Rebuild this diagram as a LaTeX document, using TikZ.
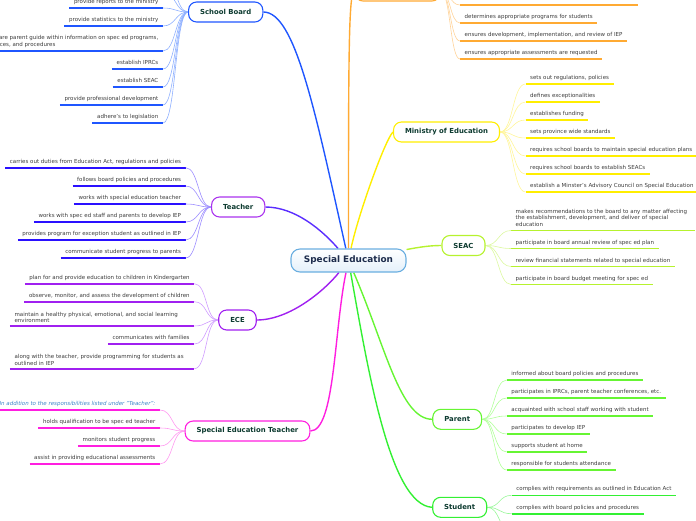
\documentclass[tikz,border=0pt]{standalone}
\usepackage{fontspec}
\setmainfont{DejaVu Sans}
\usetikzlibrary{backgrounds}
\definecolor{leafgray}{HTML}{3C3C3C}
\definecolor{nodetext}{HTML}{0D3B30}
\definecolor{ctext}{HTML}{1D2C4C}
\definecolor{cborder}{HTML}{6AAEE0}
\definecolor{cfill}{HTML}{E4F0FA}
\definecolor{sbcol}{HTML}{1F56FF}
\definecolor{sbfan}{HTML}{8FB0FF}
\definecolor{orcol}{HTML}{FFAA33}
\definecolor{orfan}{HTML}{FFD399}
\definecolor{mincol}{HTML}{FFEE00}
\definecolor{minfan}{HTML}{FFF59A}
\definecolor{seaccol}{HTML}{B6F22E}
\definecolor{seacfan}{HTML}{DCF8A0}
\definecolor{parcol}{HTML}{66F533}
\definecolor{parfan}{HTML}{B0FF99}
\definecolor{stucol}{HTML}{33F033}
\definecolor{stufan}{HTML}{99F799}
\definecolor{teaborder}{HTML}{AA33EE}
\definecolor{teamain}{HTML}{5A2DFF}
\definecolor{teacol}{HTML}{2A10FF}
\definecolor{teafan}{HTML}{9C8CFF}
\definecolor{ececol}{HTML}{A020F0}
\definecolor{ecefan}{HTML}{D09CFF}
\definecolor{sptcol}{HTML}{FF1EE0}
\definecolor{sptfan}{HTML}{FF99F0}
\definecolor{ittext}{HTML}{3A84C8}
\begin{document}
\begin{tikzpicture}[x=1pt,y=-1pt,
  leaf/.style={font=\fontsize{5.5}{6.7}\selectfont, text=leafgray, inner xsep=4.5pt, inner ysep=1.5pt, text depth=2.8pt},
  leafL/.style={leaf, anchor=south east},
  leafR/.style={leaf, anchor=south west},
  multi/.style={text width=175pt, align=left},
  twolines/.style={text depth=8.3pt},
  threelines/.style={text depth=15.6pt},
  branch/.style={draw, rounded corners=8pt, line width=1.1pt, fill=white, font=\bfseries\fontsize{6.9}{8}\selectfont, text=nodetext, minimum height=20pt, inner xsep=11.5pt, inner ysep=0pt},
  centre/.style={draw=cborder, rounded corners=9pt, line width=1.1pt, top color=white, bottom color=cfill, font=\bfseries\fontsize{8.9}{10}\selectfont, text=ctext, minimum width=115pt, minimum height=23pt},
  ul/.style={line width=1.6pt},
  fan/.style={line width=0.6pt},
  main/.style={line width=1.4pt}
]
\useasboundingbox (0,0) rectangle (696,520);

% central and branch nodes
\node[centre] (se) at (348.5,260.5) {Special Education};
\node[branch, draw=sbcol] (sb) at (225.7,12) {School Board};
\node[branch, draw=orcol, minimum width=85pt] (ip) at (397.5,-9) {};
\node[branch, draw=mincol] (min) at (446.5,132) {Ministry of Education};
\node[branch, draw=seaccol] (seac) at (463.5,245.5) {SEAC};
\node[branch, draw=parcol] (par) at (457.2,419.3) {Parent};
\node[branch, draw=stucol] (stu) at (459.7,507.3) {Student};
\node[branch, draw=teaborder] (tea) at (238.2,207) {Teacher};
\node[branch, draw=ececol] (ece) at (237.5,320) {ECE};
\node[branch, draw=sptcol] (spt) at (247.5,431) {Special Education Teacher};

% School Board leaves
\coordinate (sb0) at (163,-8);
\coordinate (sbm) at (163,-26);
\node[leafL] (sb1) at (163,8) {provide reports to the ministry};
\node[leafL] (sb2) at (163,26) {provide statistics to the ministry};
\node[leafL, align=left] (sb3) at (163,51) {prepare parent guide within information on spec ed programs,\\services, and procedures};
\node[leafL] (sb4) at (163,69) {establish IPRCs};
\node[leafL] (sb5) at (163,87) {establish SEAC};
\node[leafL] (sb6) at (163,105) {provide professional development};
\node[leafL] (sb7) at (163,123) {adhere's to legislation};

% top (orange) leaves
\coordinate (ip0) at (460,5);
\coordinate (ip0e) at (638,5);
\node[leafR] (ip1) at (460,23) {determines appropriate programs for students};
\node[leafR] (ip2) at (460,41) {ensures development, implementation, and review of IEP};
\node[leafR] (ip3) at (460,59) {ensures appropriate assessments are requested};

% Ministry leaves
\node[leafR] (mi1) at (525.5,84) {sets out regulations, policies};
\node[leafR] (mi2) at (525.5,102) {defines exceptionalities};
\node[leafR] (mi3) at (525.5,120) {establishes funding};
\node[leafR] (mi4) at (525.5,138) {sets province wide standards};
\node[leafR] (mi5) at (525.5,156) {requires school boards to maintain special education plans};
\node[leafR] (mi6) at (525.5,174) {requires school boards to establish SEACs};
\node[leafR] (mi7) at (525.5,192) {establish a Minster's Advisory Council on Special Education};

% SEAC leaves
\node[leafR, multi, threelines] (sc1) at (511,230.5) {makes recommendations to the board to any matter affecting\\the establishment, development, and deliver of special\\education};
\node[leafR] (sc2) at (511,248.5) {participate in board annual review of spec ed plan};
\node[leafR] (sc3) at (511,266.5) {review financial statements related to special education};
\node[leafR] (sc4) at (511,284.5) {participate in board budget meeting for spec ed};

% Parent leaves
\node[leafR] (pa1) at (506.7,380) {informed about board policies and procedures};
\node[leafR] (pa2) at (506.7,398) {participates in IPRCs, parent teacher conferences, etc.};
\node[leafR] (pa3) at (506.7,416) {acquainted with school staff working with student};
\node[leafR] (pa4) at (506.7,434) {participates to develop IEP};
\node[leafR] (pa5) at (506.7,452) {supports student at home};
\node[leafR] (pa6) at (506.7,470) {responsible for students attendance};

% Student leaves
\node[leafR] (st1) at (511.7,495.3) {complies with requirements as outlined in Education Act};
\node[leafR] (st2) at (511.7,513.7) {complies with board policies and procedures};
\coordinate (st3) at (511.7,532);

% Teacher leaves
\node[leafL] (te1) at (185.7,167.7) {carries out duties from Education Act, regulations and policies};
\node[leafL] (te2) at (185.7,186) {follows board policies and procedures};
\node[leafL] (te3) at (185.7,204) {works with special education teacher};
\node[leafL] (te4) at (185.7,222) {works with spec ed staff and parents to develop IEP};
\node[leafL] (te5) at (185.7,240) {provides program for exception student as outlined in IEP};
\node[leafL] (te6) at (185.7,258) {communicate student progress to parents};

% ECE leaves
\node[leafL] (ec1) at (194.3,283.7) {plan for and provide education to children in Kindergarten};
\node[leafL] (ec2) at (194.3,301.7) {observe, monitor, and assess the development of children};
\node[leafL, multi, twolines] (ec3) at (194.3,326) {maintain a healthy physical, emotional, and social learning\\environment};
\node[leafL] (ec4) at (194.3,344) {communicates with families};
\node[leafL, multi, twolines] (ec5) at (194.3,368.7) {along with the teacher, provide programming for students as\\outlined in IEP};

% Special Education Teacher leaves
\node[leafL, text=ittext, font=\itshape\fontsize{5.5}{6.7}\selectfont] (sp1) at (160,410) {In addition to the responsibilities listed under "Teacher":};
\node[leafL] (sp2) at (160,428) {holds qualification to be spec ed teacher};
\node[leafL] (sp3) at (160,446) {monitors student progress};
\node[leafL] (sp4) at (160,464) {assist in providing educational assessments};

\begin{scope}[on background layer]
  % main connectors
  \draw[main, sbcol] (sb.east) .. controls (295,12) and (315,110) .. (se);
  \draw[main, orcol] (se) .. controls (348.5,60) and (348.5,-9) .. (ip.west);
  \draw[main, mincol] (min.west) .. controls (385,140) and (358,215) .. (se);
  \draw[main, seaccol] (se) .. controls (420,247) and (430,245.5) .. (seac.west);
  \draw[main, parcol] (se) .. controls (385,345) and (400,419.3) .. (par.west);
  \draw[main, stucol] (se) .. controls (368,370) and (390,505) .. (stu.west);
  \draw[main, teamain] (tea.east) .. controls (295,207) and (322,230) .. (se);
  \draw[main, ececol] (ece.east) .. controls (290,320) and (325,290) .. (se);
  \draw[main, sptcol] (spt.east) .. controls (335,431) and (334,330) .. (se);

  % left groups
  \foreach \n in {sb1,sb2,sb3,sb4,sb5,sb6,sb7} {
    \draw[ul, sbcol] (\n.south west) -- (\n.south east);
    \draw[fan, sbfan] (\n.south east) .. controls +(13,0) and +(-13,0) .. (sb.west);
  }
  \foreach \n in {sb0,sbm}
    \draw[fan, sbfan] (\n) .. controls +(13,0) and +(-13,0) .. (sb.west);
  \foreach \n in {te1,te2,te3,te4,te5,te6} {
    \draw[ul, teacol] (\n.south west) -- (\n.south east);
    \draw[fan, teafan] (\n.south east) .. controls +(13,0) and +(-13,0) .. (tea.west);
  }
  \foreach \n in {ec1,ec2,ec3,ec4,ec5} {
    \draw[ul, ececol] (\n.south west) -- (\n.south east);
    \draw[fan, ecefan] (\n.south east) .. controls +(13,0) and +(-13,0) .. (ece.west);
  }
  \foreach \n in {sp1,sp2,sp3,sp4} {
    \draw[ul, sptcol] (\n.south west) -- (\n.south east);
    \draw[fan, sptfan] (\n.south east) .. controls +(13,0) and +(-13,0) .. (spt.west);
  }
  % right groups
  \draw[ul, orcol] (ip0) -- (ip0e);
  \draw[fan, orfan] (ip.east) .. controls +(10,0) and +(-10,0) .. (ip0);
  \foreach \n in {ip1,ip2,ip3} {
    \draw[ul, orcol] (\n.south west) -- (\n.south east);
    \draw[fan, orfan] (ip.east) .. controls +(10,0) and +(-10,0) .. (\n.south west);
  }
  \foreach \n in {mi1,mi2,mi3,mi4,mi5,mi6,mi7} {
    \draw[ul, mincol] (\n.south west) -- (\n.south east);
    \draw[fan, minfan] (min.east) .. controls +(13,0) and +(-13,0) .. (\n.south west);
  }
  \foreach \n in {sc1,sc2,sc3,sc4} {
    \draw[ul, seaccol] (\n.south west) -- (\n.south east);
    \draw[fan, seacfan] (seac.east) .. controls +(13,0) and +(-13,0) .. (\n.south west);
  }
  \foreach \n in {pa1,pa2,pa3,pa4,pa5,pa6} {
    \draw[ul, parcol] (\n.south west) -- (\n.south east);
    \draw[fan, parfan] (par.east) .. controls +(13,0) and +(-13,0) .. (\n.south west);
  }
  \foreach \n in {st1,st2} {
    \draw[ul, stucol] (\n.south west) -- (\n.south east);
    \draw[fan, stufan] (stu.east) .. controls +(13,0) and +(-13,0) .. (\n.south west);
  }
  \draw[fan, stufan] (stu.east) .. controls +(13,0) and +(-13,0) .. (st3);
\end{scope}
\end{tikzpicture}
\end{document}
